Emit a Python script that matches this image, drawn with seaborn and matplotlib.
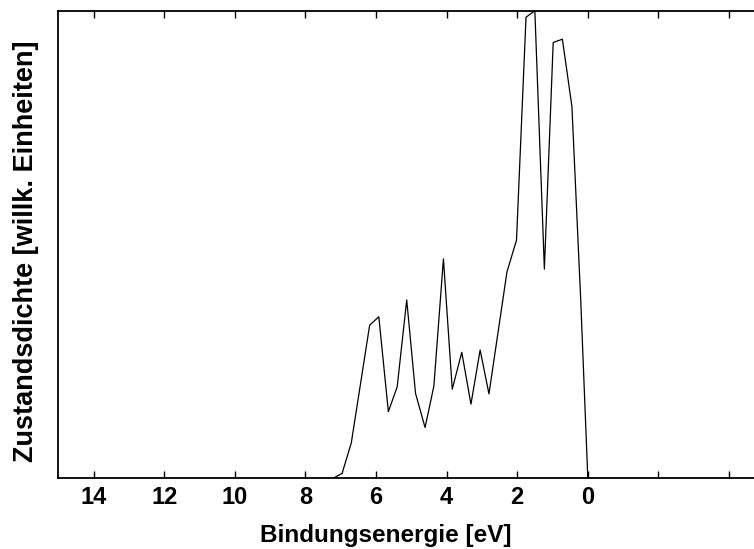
import matplotlib
matplotlib.use("Agg")
import matplotlib.pyplot as plt
import seaborn as sns
import pandas as pd

# Binding energy (eV) and density of states (arbitrary units)
energy = [7.20, 6.96, 6.70, 6.18, 5.92, 5.65, 5.40, 5.13, 4.88, 4.61, 4.36,
          4.09, 3.84, 3.57, 3.31, 3.05, 2.80, 2.29, 2.02, 1.75, 1.50, 1.23,
          0.98, 0.72, 0.45, 0.20, 0.00]
dos = [0.0, 1.0, 7.5, 32.7, 34.5, 14.2, 19.5, 38.1, 18.1, 10.8, 19.7,
       46.9, 19.0, 26.9, 15.8, 27.4, 18.0, 44.1, 50.9, 98.6, 100.0, 44.7,
       93.2, 93.9, 79.5, 38.0, 0.0]
tick_values = [14, 12, 10, 8, 6, 4, 2, 0, -2, -4]
tick_labels = ["14", "12", "10", "8", "6", "4", "2", "0", "", ""]

sns.set_style("ticks")
plt.rcParams["font.family"] = ["Liberation Sans", "DejaVu Sans"]
plt.rcParams["text.color"] = "black"
plt.rcParams["axes.labelcolor"] = "black"
plt.rcParams["xtick.color"] = "black"
plt.rcParams["xtick.labelcolor"] = "black"

df = pd.DataFrame({"E": energy, "D": dos})

fig = plt.figure(figsize=(7.54, 5.49), dpi=100)
ax = fig.add_axes([58.3 / 754, 71 / 549, 706 / 754, 467.3 / 549])
sns.lineplot(data=df, x="E", y="D", ax=ax, color="black", linewidth=0.9)

ax.set_xlim(15, -5)
ax.set_ylim(0, 100)
ax.set_xticks(tick_values)
ax.set_xticklabels(tick_labels, fontsize=17, fontweight="bold", color="black")
ax.set_yticks([])
ax.tick_params(axis="x", direction="in", length=5, width=1, top=True,
               bottom=True, pad=6, colors="black")
for s in ax.spines.values():
    s.set_linewidth(1.3)
    s.set_color("black")
ax.set_xlabel("Bindungsenergie [eV]", fontsize=17.5, fontweight="bold", color="black")
ax.xaxis.set_label_coords((386 - 58.3) / 706, -(547 - 478) / 467.3, transform=ax.transAxes)
ax.xaxis.label.set_va("bottom")
ax.set_ylabel("Zustandsdichte [willk. Einheiten]", fontsize=19.5, fontweight="bold",
              color="black")
ax.yaxis.set_label_coords(-(58.3 - 26) / 706, (478 - 251) / 467.3, transform=ax.transAxes)
ax.yaxis.label.set_va("center")

fig.savefig("out.png", dpi=100)
